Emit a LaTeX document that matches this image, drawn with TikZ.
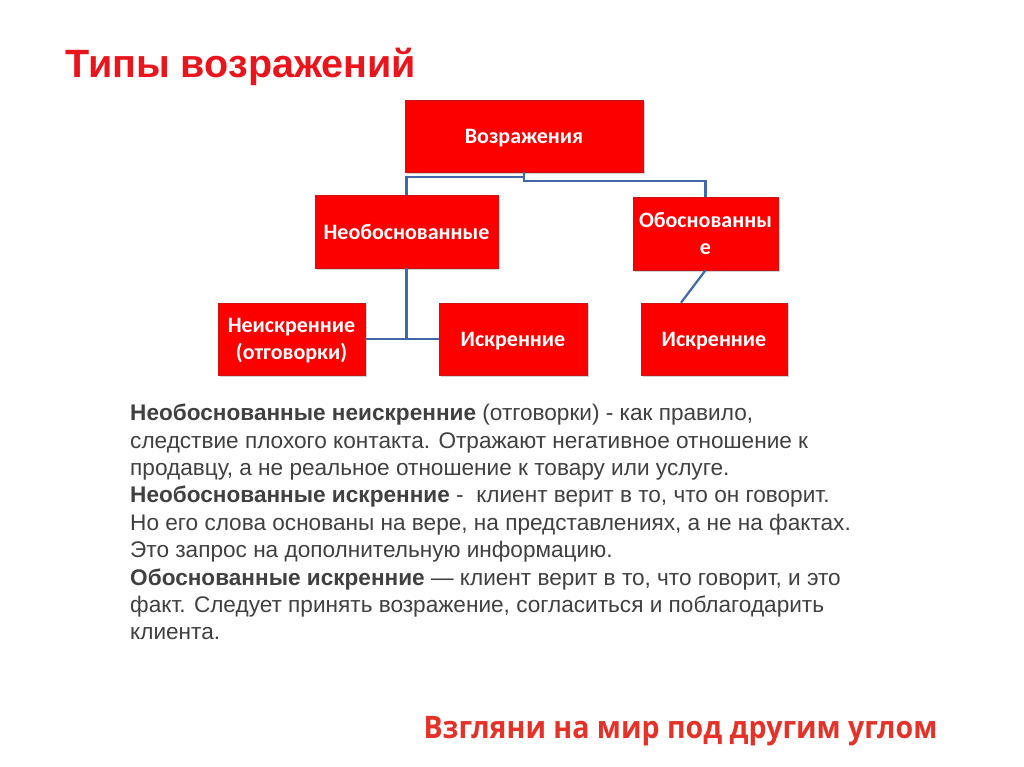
\documentclass[tikz,border=0pt]{standalone}
\usepackage{fontspec}
\setmainfont{Liberation Sans}
\newfontfamily\boxfont{Carlito}
\newfontfamily\titlefont{Liberation Sans}
\newfontfamily\footfont[FakeStretch=0.92]{Open Sans}
\usetikzlibrary{shadows}

\definecolor{boxred}{RGB}{252,0,0}
\definecolor{boxborder}{RGB}{200,20,20}
\definecolor{linkblue}{RGB}{64,104,168}
\definecolor{titlered}{RGB}{234,20,28}
\definecolor{footred}{RGB}{228,50,40}
\definecolor{bodygray}{RGB}{64,64,64}

\tikzset{
	objbox/.style={draw=boxborder,fill=boxred,line width=0.6pt,text=white,
		font=\boxfont\bfseries\fontsize{22}{27}\selectfont,align=center,inner sep=0pt,
		text depth=0pt,
		drop shadow={shadow xshift=2pt,shadow yshift=-2pt,opacity=0.35}},
	link/.style={draw=linkblue,line width=2.2pt}
}

\begin{document}
\begin{tikzpicture}[x=1pt,y=-1pt]

	\useasboundingbox[fill=white] (0,0) rectangle (1024,767);

	\node[anchor=base west,text=titlered,font=\titlefont\bfseries\fontsize{39.5}{44}\selectfont]
		(title) at (62,78) {Типы возражений};

	% tree of objection types
	\node[objbox,minimum width=238pt,minimum height=72pt] (vozr) at (524,136) {Возражения};
	\node[objbox,minimum width=183pt,minimum height=73pt] (neob) at (406.5,231.5) {Необоснованные};
	\node[objbox,minimum width=145pt,minimum height=73pt] (obos) at (705.5,233.5) {Обоснованны\\е};
	\node[objbox,minimum width=147pt,minimum height=72pt] (neisk) at (291.5,339) {Неискренние\\(отговорки)};
	\node[objbox,minimum width=148pt,minimum height=72pt] (iskL) at (513,339) {Искренние};
	\node[objbox,minimum width=146pt,minimum height=72pt] (iskR) at (714,339) {Искренние};

	\draw[link] (vozr.south) -- ++(0,5) -| (neob.north);
	\draw[link] (vozr.south) -- ++(0,9) -| (obos.north);
	\draw[link] (neob.south) -- (neob.south |- neisk.east);
	\draw[link] (neisk.east) -- (iskL.west);
	\draw[link] (obos.south) -- ([xshift=-33pt]iskR.north);

	% explanation
	\node[anchor=north west,inner sep=0pt,align=left,text=bodygray,
		font=\fontsize{22.6}{27.4}\selectfont] (expl) at (130,404) {%
		\textbf{Необоснованные неискренние} (отговорки) - как правило,\\
		следствие плохого контакта. Отражают негативное отношение к\\
		продавцу, а не реальное отношение к товару или услуге.\\
		\textbf{Необоснованные искренние} -\ \ клиент верит в то, что он говорит.\\
		Но его слова основаны на вере, на представлениях, а не на фактах.\\
		Это запрос на дополнительную информацию.\\
		\textbf{Обоснованные искренние} — клиент верит в то, что говорит, и это\\
		факт. Следует принять возражение, согласиться и поблагодарить\\
		клиента.};

	\node[anchor=base west,text=footred,font=\footfont\bfseries\fontsize{31}{36}\selectfont]
		(motto) at (420,738) {Взгляни на мир под другим углом};

\end{tikzpicture}
\end{document}
